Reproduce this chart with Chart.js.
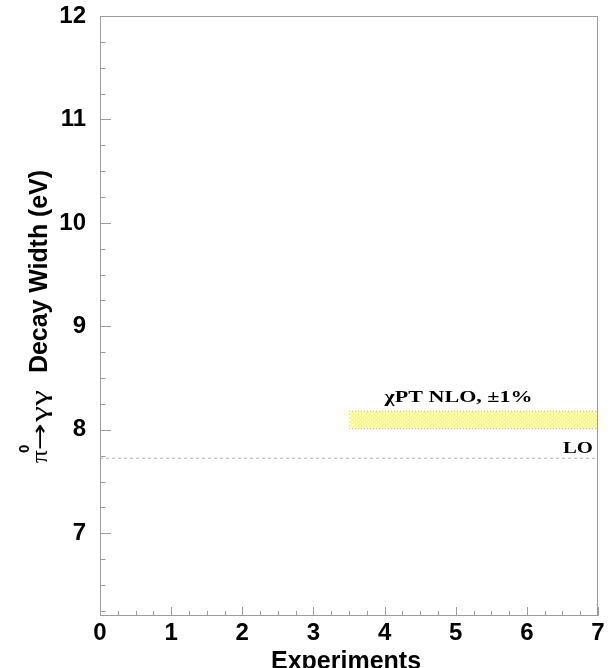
<!DOCTYPE html>
<html>
<head>
<meta charset="utf-8">
<script src="https://cdn.jsdelivr.net/npm/chart.js@4.4.1/dist/chart.umd.min.js"></script>
<style>
 body { margin: 0; background: #fff; }
 #caja { width: 614px; height: 668px; }
</style>
</head>
<body>
<div id="caja"><canvas id="miGrafico"></canvas></div>
<script>
// datos del grafico
const ticksX = [0, 1, 2, 3, 4, 5, 6, 7];
const ticksY = [7, 8, 9, 10, 11, 12];
const rangoX = [0, 7];
const rangoY = [6.2, 12];
const bandaX = [3.5, 7];
const bandaArriba = [8.18, 8.18];
const bandaAbajo = [8.01, 8.01];
const loX = [0, 7];
const loY = [7.725, 7.725];
const textoNLO = 'χPT NLO, ±1%';
const textoLO = 'LO';

var ctx = document.getElementById('miGrafico').getContext('2d');

// trama amarilla cruzada para la banda
function hacerTrama() {
 const c = document.createElement('canvas');
 c.width = 4; c.height = 4;
 const g = c.getContext('2d');
 g.fillStyle = '#ffffff';
 g.fillRect(0, 0, 4, 4);
 g.fillStyle = '#ffff4a';
 for (let i = 0; i < 4; i++) {
  g.fillRect(i, i, 1, 1);
  g.fillRect(3 - i, i, 1, 1);
 }
 return g.createPattern(c, 'repeat');
}

// escribe un texto estirado para que ocupe un ancho dado
function textoAncho(c, txt, t, ancho) {
 const w = c.measureText(txt).width;
 c.save();
 c.translate(t, 0);
 c.scale(ancho / w, 1);
 c.fillText(txt, 0, 0);
 c.restore();
}

// marco y marcas hacia adentro
const marco = {
 id: 'marco',
 afterDraw(chart) {
  const c = chart.ctx, a = chart.chartArea, x = chart.scales.x, y = chart.scales.y;
  c.save();
  c.strokeStyle = '#9c9c9c';
  c.lineWidth = 1;
  c.strokeRect(a.left + 0.5, a.top + 0.5, a.right - a.left - 1, a.bottom - a.top - 1);
  c.beginPath();
  for (let v = rangoX[0]; v <= rangoX[1] + 1e-9; v += 0.25) {
   const px = Math.round(x.getPixelForValue(v)) + 0.5;
   const largo = ticksX.includes(v) ? 9 : 5;
   c.moveTo(px, a.bottom);
   c.lineTo(px, a.bottom - largo);
  }
  for (let v = Math.ceil(rangoY[0] * 4) / 4; v <= rangoY[1] + 1e-9; v += 0.25) {
   const py = Math.round(y.getPixelForValue(v)) + 0.5;
   const largo = ticksY.includes(v) ? 11 : 5.5;
   c.moveTo(a.left, py);
   c.lineTo(a.left + largo, py);
  }
  c.stroke();

  // titulo eje x
  c.fillStyle = '#000';
  c.font = 'bold 25px "Liberation Sans"';
  c.textAlign = 'center';
  c.textBaseline = 'alphabetic';
  c.fillText('Experiments', 346, 669);

  // titulo eje y, girado
  c.translate(47, 463);
  c.rotate(-Math.PI / 2);
  c.textAlign = 'left';
  c.font = '24px "Liberation Serif"';
  textoAncho(c, 'π', 0, 13);
  textoAncho(c, 'γγ', 41, 32);
  c.font = '22px "DejaVu Sans"';
  textoAncho(c, '→', 13, 27);
  c.font = 'bold 15px "Liberation Sans"';
  c.fillText('0', 10, -18);
  c.font = 'bold 25px "Liberation Sans"';
  textoAncho(c, 'Decay Width (eV)', 90, 203);
  c.restore();
 }
};

// etiquetas de texto sobre el grafico
const etiquetas = {
 id: 'etiquetas',
 afterDatasetsDraw(chart) {
  const c = chart.ctx, x = chart.scales.x, y = chart.scales.y;
  c.save();
  c.fillStyle = '#000';
  c.font = 'bold 17px "Liberation Serif"';
  c.textBaseline = 'alphabetic';
  c.textAlign = 'left';
  c.translate(x.getPixelForValue(4.0), y.getPixelForValue(8.27));
  textoAncho(c, textoNLO, 0, 148);
  c.restore();
  c.save();
  c.fillStyle = '#000';
  c.font = 'bold 17px "Liberation Serif"';
  c.textAlign = 'left';
  c.translate(x.getPixelForValue(6.93) - 30, y.getPixelForValue(7.78));
  textoAncho(c, textoLO, 0, 30);
  c.restore();
 }
};

var chart = new Chart(ctx, {
 type: 'line',
 data: {
  datasets: [{
   label: 'NLO sup',
   data: bandaX.map((v, i) => ({ x: v, y: bandaArriba[i] })),
   borderColor: '#b8b8b8',
   borderWidth: 1,
   borderDash: [1, 2],
   pointRadius: 0,
   fill: false
  },
  {
   label: 'NLO inf',
   data: bandaX.map((v, i) => ({ x: v, y: bandaAbajo[i] })),
   borderColor: '#b8b8b8',
   borderWidth: 1,
   borderDash: [1, 2],
   pointRadius: 0,
   backgroundColor: hacerTrama(),
   fill: '-1'
  },
  {
   label: 'LO',
   data: loX.map((v, i) => ({ x: v, y: loY[i] })),
   borderColor: '#b0b0b0',
   borderWidth: 1,
   borderDash: [3, 3],
   pointRadius: 0,
   fill: false
  }]
 },
 options: {
  responsive: true,
  maintainAspectRatio: false,
  animation: false,
  layout: { padding: { top: 16, right: 16, left: 0, bottom: 0 } },
  plugins: { legend: { display: false }, tooltip: { enabled: false } },
  scales: {
   x: {
    type: 'linear',
    min: rangoX[0],
    max: rangoX[1],
    grid: { display: false, drawTicks: false },
    border: { display: false },
    afterBuildTicks: s => { s.ticks = ticksX.map(v => ({ value: v })); },
    afterFit: s => { s.height = 52; s.paddingLeft = 0; s.paddingRight = 0; },
    ticks: {
     padding: 3,
     color: '#000',
     maxRotation: 0,
     autoSkip: false,
     font: { family: 'Liberation Sans', size: 24, weight: 'bold' }
    }
   },
   y: {
    type: 'linear',
    min: rangoY[0],
    max: rangoY[1],
    grid: { display: false, drawTicks: false },
    border: { display: false },
    afterBuildTicks: s => { s.ticks = ticksY.map(v => ({ value: v })); },
    afterFit: s => { s.width = 100; s.paddingTop = 0; s.paddingBottom = 0; },
    ticks: {
     padding: 14,
     color: '#000',
     font: { family: 'Liberation Sans', size: 24, weight: 'bold' }
    }
   }
  }
 },
 plugins: [marco, etiquetas]
});
</script>
</body>
</html>
